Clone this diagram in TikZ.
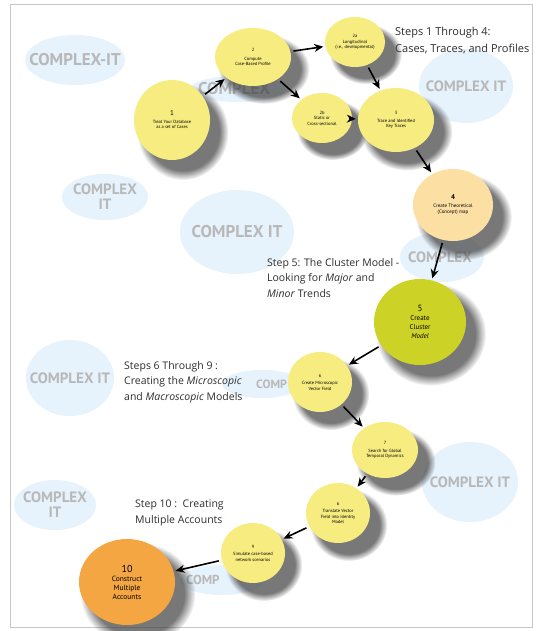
\documentclass[tikz,border=0pt]{standalone}
\usepackage{fontspec}
\setmainfont{PT Sans}
\newfontfamily\headfont{Open Sans}
\usepackage{tikz}
\usetikzlibrary{arrows.meta,shapes.geometric,shadows,fadings}
\definecolor{stepyellow}{HTML}{F7EC80}
\definecolor{steppeach}{HTML}{FCDFA2}
\definecolor{steplime}{HTML}{CDD326}
\definecolor{steporange}{HTML}{F4A643}
\definecolor{blobblue}{HTML}{E6F2FC}
\definecolor{blobgray}{HTML}{B8B8B8}
\definecolor{headtext}{HTML}{2E2E2E}

\begin{document}
\begin{tikzpicture}[x=1pt,y=-1pt,
  stepnode/.style={ellipse,fill=stepyellow,align=center,inner sep=0pt,
    font=\fontsize{4.5}{5.5}\selectfont,
    general shadow={shadow xshift=9pt,shadow yshift=-10pt,shadow scale=1.2,
      fill=black!75,opacity=0.7,path fading=circle with fuzzy edge 20 percent}},
  bgword/.style={text=blobgray,align=center,inner sep=0pt,font=\bfseries\fontsize{15}{15}\selectfont},
  big/.style={font=\bfseries\fontsize{17}{17}\selectfont},
  heading/.style={anchor=north west,align=left,text=headtext,inner sep=0pt,
    font=\headfont\fontsize{10.5}{15.5}\selectfont},
  arr/.style={-{Stealth[length=9pt,width=8pt]},line width=1.6pt,shorten <=3pt,shorten >=2pt}]
\useasboundingbox (0,0) rectangle (539,631);
\fill[white] (0,0) rectangle (539,631);
\draw[gray!45,line width=1pt] (10,5) -- (532,5) -- (532,627) -- (10,627) -- cycle;

% background blobs
\fill[blobblue] (75,60) ellipse [x radius=50,y radius=25];
\fill[blobblue] (466,86) ellipse [x radius=47,y radius=37];
\fill[blobblue] (105,197) ellipse [x radius=43,y radius=23];
\fill[blobblue] (237,232) ellipse [x radius=57,y radius=42];
\fill[blobblue] (442,257) ellipse [x radius=42,y radius=25];
\fill[blobblue] (70,378) ellipse [x radius=44,y radius=38];
\fill[blobblue] (262,384) ellipse [x radius=40,y radius=14];
\fill[blobblue] (470,482) ellipse [x radius=48,y radius=40];
\fill[blobblue] (55,505) ellipse [x radius=41,y radius=25];
\fill[blobblue] (222,580) ellipse [x radius=42,y radius=15];
\fill[blobblue] (238,89) ellipse [x radius=48,y radius=13];
\node[bgword,big] (bg1) at (75,60) {COMPLEX-IT};
\node[bgword] (bg2) at (466,86) {COMPLEX IT};
\node[bgword] (bg3) at (105,197) {COMPLEX\\IT};
\node[bgword,big] (bg4) at (237,232) {COMPLEX IT};
\node[bgword] (bg5) at (440,257) {COMPLEX};
\node[bgword] (bg6) at (70,378) {COMPLEX IT};
\node[bgword,anchor=west,font=\bfseries\fontsize{12}{12}\selectfont] (bg7) at (256,384) {COMP};
\node[bgword] (bg8) at (470,482) {COMPLEX IT};
\node[bgword] (bg9) at (55,505) {COMPLEX\\IT};
\node[bgword,anchor=west,font=\bfseries\fontsize{13}{13}\selectfont] (bg10) at (186,580) {COMP};
\node[bgword,big,anchor=west] (bg11) at (198,89) {COMPLEX};

% headings
\node[heading,font=\headfont\fontsize{11}{16.5}\selectfont] (h1) at (395,27) {Steps 1 Through 4:\\Cases, Traces, and Profiles};
\node[heading] (h5) at (267,258) {Step 5: The Cluster Model -\\Looking for \textit{Major} and\\\textit{Minor} Trends};
\node[heading] (h6) at (124,361) {Steps 6 Through 9 :\\Creating the \textit{Microscopic}\\and \textit{Macroscopic} Models};
\node[heading] (h10) at (135,500) {Step 10 :\ \ Creating\\Multiple Accounts};

% steps
\node[stepnode,minimum width=76pt,minimum height=80pt] (n1) at (172,120) {\fontsize{7}{8}\selectfont 1\\[2pt]Treat Your Database\\as a set of Cases};
\node[stepnode,minimum width=76pt,minimum height=58pt] (n2) at (253,57) {2\\[3pt]Compute\\Case-Based Profile};
\node[stepnode,minimum width=60pt,minimum height=50pt] (n2a) at (355,42) {2a\\Longitudinal\\(i.e., developmental)};
\node[stepnode,minimum width=60pt,minimum height=50pt] (n2b) at (322,118) {2b\\Static or\\Cross-sectional};
\node[stepnode,minimum width=76pt,minimum height=64pt] (n3) at (396,120) {3\\[2pt]Trace and Identified\\Key Traces};
\node[stepnode,fill=steppeach,minimum width=80pt,minimum height=72pt,font=\fontsize{5}{6}\selectfont] (n4) at (453,205) {\fontsize{7}{8}\selectfont\bfseries 4\\[2pt]Create Theoretical\\(Concept) map};
\node[stepnode,fill=steplime,minimum width=92pt,minimum height=86pt,font=\fontsize{7}{9}\selectfont] (n5) at (420,322) {\fontsize{9}{10}\selectfont 5\\Create\\Cluster\\\textit{Model}};
\node[stepnode,minimum width=64pt,minimum height=60pt] (n6) at (320,382) {6\\[2pt]Create Microscopic\\Vector Field};
\node[stepnode,minimum width=66pt,minimum height=56pt] (n7) at (385,450) {7\\[2pt]Search for Global\\Temporal Dynamics};
\node[stepnode,minimum width=64pt,minimum height=60pt] (n8) at (338,513) {6\\[2pt]Translate Vector\\Field into Identity\\Model};
\node[stepnode,minimum width=64pt,minimum height=60pt] (n9) at (253,553) {9\\[2pt]Simulate case-based\\network scenarios};
\node[stepnode,fill=steporange,minimum width=96pt,minimum height=86pt,font=\fontsize{7.5}{9}\selectfont] (n10) at (127,582) {\fontsize{10}{11}\selectfont 10\\Construct\\Multiple\\Accounts};

% connectors
\draw[arr] (n1) -- (n2);
\draw[arr] (n2) -- (n2a);
\draw[arr] (n2) -- (n2b);
\draw[arr] (n2a) -- (n3);
\draw[arr] (n2b) -- (n3);
\draw[arr] (n3) -- (n4);
\draw[arr] (n4) -- (n5);
\draw[arr] (n5) -- (n6);
\draw[arr] (n6) -- (n7);
\draw[arr] (n7) -- (n8);
\draw[arr] (n8) -- (n9);
\draw[arr] (n9) -- (n10);
\end{tikzpicture}
\end{document}
